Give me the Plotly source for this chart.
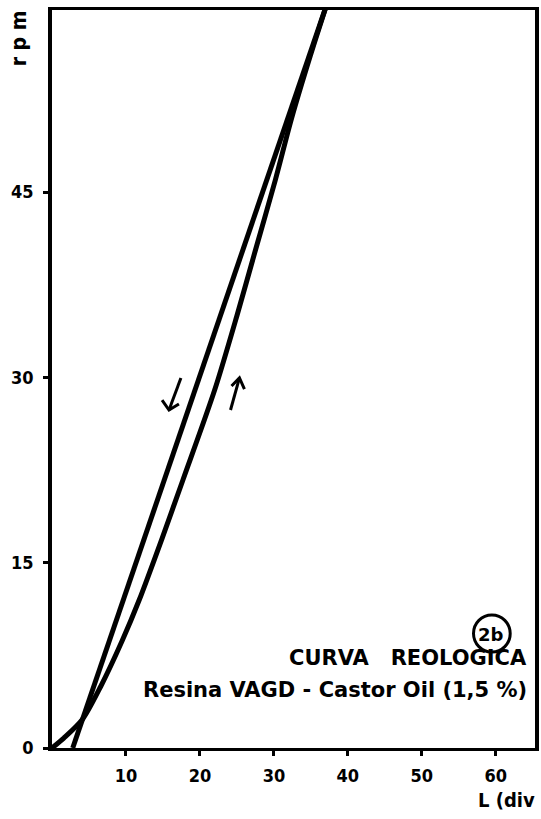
import plotly.graph_objects as go

# Rheological curve: speed (rpm) vs. reading L (div)
# ascending branch (increasing speed)
up_L = [0.0, 1.6, 4.1, 6.6, 9.5, 11.8, 14.9, 17.7, 22.0, 25.0, 27.5, 30.2, 32.4, 34.9, 37.2]
up_rpm = [0.0, 0.8, 2.3, 5.0, 8.7, 12.0, 17.0, 21.7, 29.0, 35.0, 40.3, 46.0, 51.0, 56.0, 60.3]
# descending branch (decreasing speed)
down_L = [2.8, 11.4, 19.9, 28.5, 37.2]
down_rpm = [0.0, 15.0, 30.0, 45.0, 60.3]

x_ticks = [10, 20, 30, 40, 50, 60]
y_ticks = [0, 15, 30, 45]

W, H = 541, 819
L_M, R_M, T_M, B_M = 52, 2, 10, 71
PW, PH = W - L_M - R_M, H - T_M - B_M


def px(x, y):
    """Pixel position -> paper coordinates."""
    return (x - L_M) / PW, (H - B_M - y) / PH


fig = go.Figure()
fig.add_trace(go.Scatter(x=up_L, y=up_rpm, mode="lines",
                         line=dict(color="black", width=5, shape="spline", smoothing=0.8),
                         hoverinfo="skip", showlegend=False))
fig.add_trace(go.Scatter(x=down_L, y=down_rpm, mode="lines",
                         line=dict(color="black", width=5),
                         hoverinfo="skip", showlegend=False))

tickfont = dict(family="DejaVu Sans Condensed", size=18, color="black", weight="bold")

fig.update_xaxes(range=[0, 65.3], tickvals=x_ticks, ticktext=[str(v) for v in x_ticks],
                 ticks="outside", ticklen=5, tickwidth=2.5, tickcolor="black",
                 showline=True, linecolor="black", linewidth=3, mirror=True,
                 showgrid=False, zeroline=False, tickfont=tickfont, ticklabelstandoff=4)
fig.update_yaxes(range=[0, 59.75], tickvals=y_ticks, ticktext=[str(v) for v in y_ticks],
                 ticks="outside", ticklen=5, tickwidth=2.5, tickcolor="black",
                 showline=True, linecolor="black", linewidth=3.5, mirror=True,
                 showgrid=False, zeroline=False, tickfont=tickfont, ticklabelstandoff=6)

txt = dict(family="DejaVu Sans", size=21, color="black", weight="bold")
ann = []
xx, yy = px(541, 800)
ann.append(dict(x=xx, y=yy, xref="paper", yref="paper", text="L (div", showarrow=False,
                xanchor="right", yanchor="middle",
                font=dict(family="DejaVu Sans Condensed", size=20, color="black", weight="bold")))
xx, yy = px(19, 38)
ann.append(dict(x=xx, y=yy, xref="paper", yref="paper", text="r p m", showarrow=False, textangle=-90,
                xanchor="center", yanchor="middle",
                font=dict(family="DejaVu Sans Condensed", size=21, color="black", weight="bold")))
xx, yy = px(495, 634)
ann.append(dict(x=xx, y=yy, xref="paper", yref="paper", text="2b", showarrow=False,
                xanchor="center", yanchor="middle",
                font=dict(family="DejaVu Sans", size=18, color="black", weight="bold")))
xx, yy = px(533, 658)
ann.append(dict(x=xx, y=yy, xref="paper", yref="paper", text="CURVA   REOLOGICA", showarrow=False,
                xanchor="right", yanchor="middle", font=txt))
xx, yy = px(533, 690)
ann.append(dict(x=xx, y=yy, xref="paper", yref="paper", text="Resina VAGD - Castor Oil (1,5 %)", showarrow=False,
                xanchor="right", yanchor="middle", font=txt))

shapes = []
x0, y0 = px(477, 652)
x1, y1 = px(514, 615)
shapes.append(dict(type="circle", xref="paper", yref="paper", x0=x0, y0=y0, x1=x1, y1=y1,
                   line=dict(color="black", width=3)))


def path(points):
    pts = [px(a, b) for a, b in points]
    return "M " + " L ".join(f"{a:.4f},{b:.4f}" for a, b in pts)


# direction arrows beside the two branches
for seg in ([(182, 378), (170, 410)], [(163, 400), (170, 410), (180, 404)],
            [(232, 410), (241, 378)], [(233, 386), (241, 378), (246, 389)]):
    shapes.append(dict(type="path", xref="paper", yref="paper", path=path(seg),
                       line=dict(color="black", width=3)))

fig.update_layout(width=W, height=H, margin=dict(l=L_M, r=R_M, t=T_M, b=B_M),
                  paper_bgcolor="white", plot_bgcolor="white",
                  annotations=ann, shapes=shapes)

fig.write_html("out.html")
